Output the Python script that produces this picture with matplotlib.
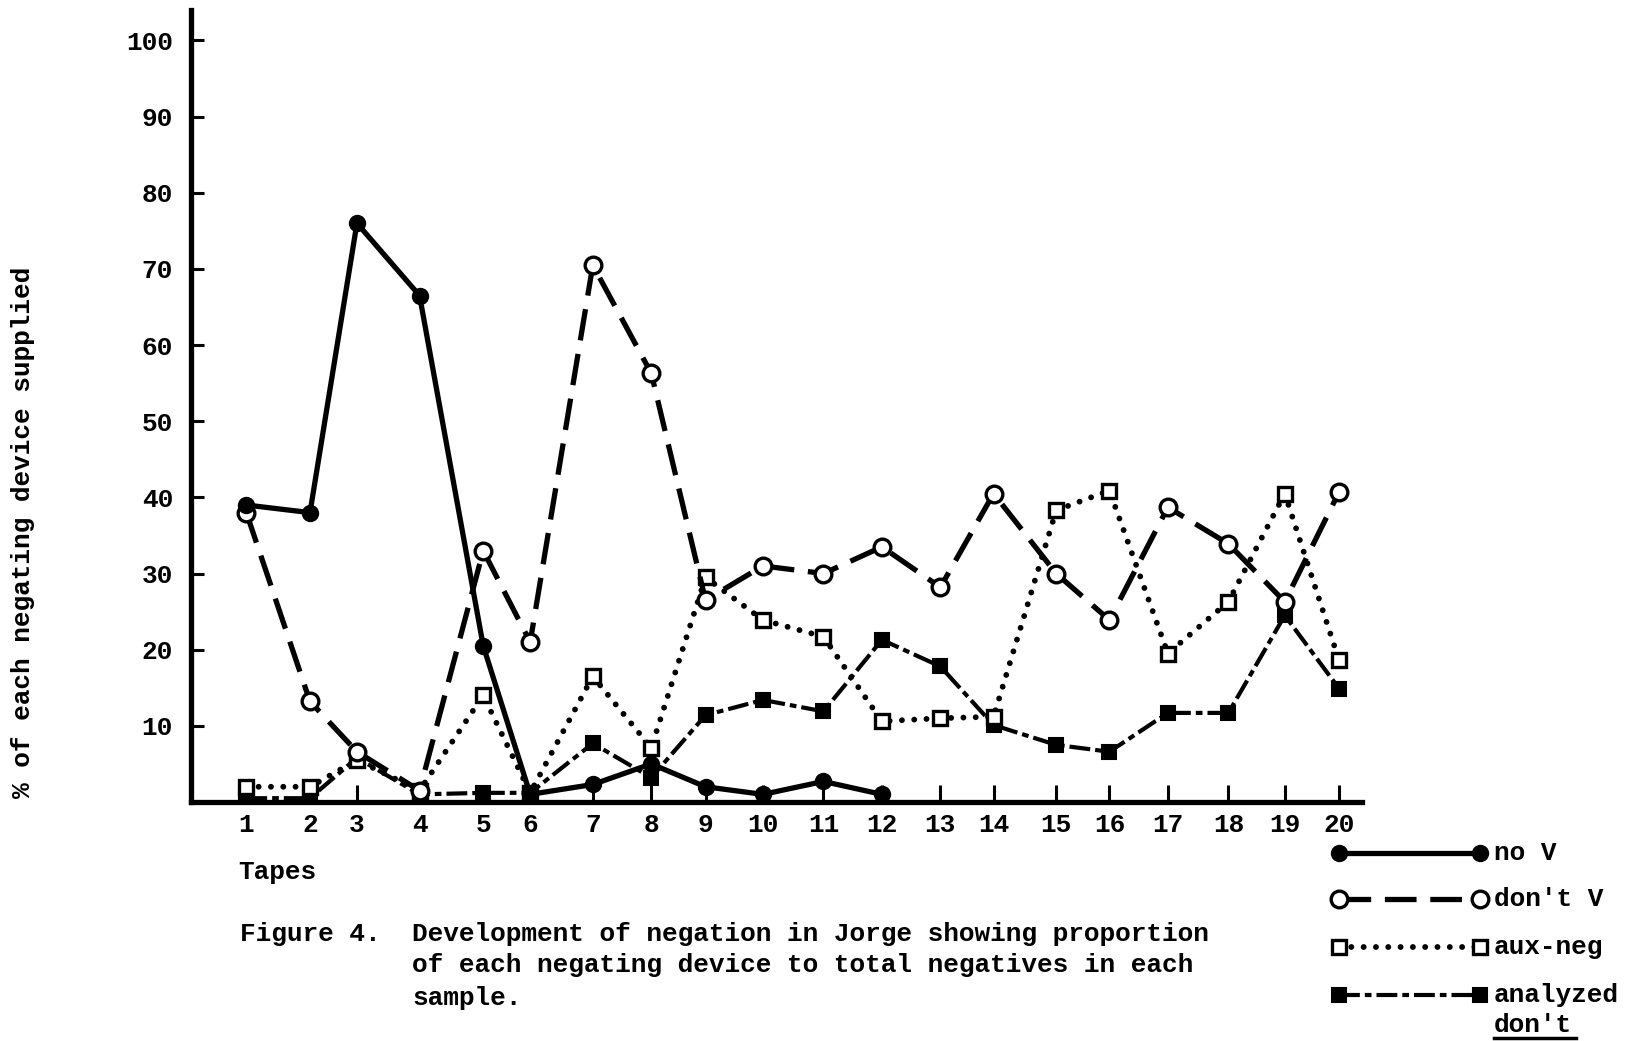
import matplotlib
matplotlib.use("Agg")
import matplotlib.pyplot as plt
from matplotlib.lines import Line2D
import numpy as np

# ---- data ----
tapes = list(range(1, 21))
# uneven horizontal placement of the tapes along the axis (axis runs 0..112.2)
tape_pos = [5.3, 11.4, 15.9, 21.9, 28.0, 32.5, 38.5, 44.1, 49.3, 54.8,
            60.6, 66.2, 71.8, 76.9, 82.9, 88.0, 93.6, 99.4, 104.8, 110.0]

no_v = [39, 38, 76, 66.5, 20.5, 1, 2.3, 5, 2, 1, 2.7, 1]  # tapes 1-12
dont_v = [38, 13.2, 6.6, 1.5, 33, 21, 70.5, 56.3, 26.5, 31,
          30, 33.5, 28.2, 40.5, 30, 23.9, 38.7, 33.9, 26.3, 40.7]
aux_neg = [2, 2, 5.5, 1.5, 14, 1.2, 16.5, 7.1, 29.5, 23.9,
           21.7, 10.6, 11, 11.2, 38.3, 40.9, 19.5, 26.3, 40.5, 18.6]
analyzed = [0.5, 0.5, 5.8, 1, 1.2, 1.2, 7.7, 3.2, 11.4, 13.4,
            11.9, 21.3, 17.8, 10.1, 7.5, 6.6, 11.7, 11.7, 24.5, 14.9]

y_ticks = [10, 20, 30, 40, 50, 60, 70, 80, 90, 100]

FONT = "Liberation Mono"
FS = 18.8

W, H = 1636, 1041
fig = plt.figure(figsize=(W / 100, H / 100), dpi=100)
ax = fig.add_axes([191 / W, 1 - 802 / H, (1362 - 191) / W, (802 - 10) / H])

xpos = np.array(tape_pos)

styles = {
    "no V": dict(ls="-", lw=3.8, marker="o", ms=11, mfc="black", mec="black", mew=1.5),
    "don't V": dict(ls=(0, (6, 2.6)), lw=3.8, marker="o", ms=12, mfc="white", mec="black", mew=2.4),
    "aux-neg": dict(ls=(0, (0.01, 2.1)), lw=4.2, marker="s", ms=10.5, mfc="white", mec="black",
                    mew=2.4, dash_capstyle="round"),
    "analyzed": dict(ls=(0, (5, 1.2, 1.6, 1.2)), lw=3.0, marker="s", ms=10.5, mfc="black",
                     mec="black", mew=1.5),
}

ax.plot(xpos, analyzed, color="black", zorder=3, **styles["analyzed"])
ax.plot(xpos, aux_neg, color="black", zorder=4, **styles["aux-neg"])
ax.plot(xpos, dont_v, color="black", zorder=5, **styles["don't V"])
ax.plot(xpos[:len(no_v)], no_v, color="black", zorder=6, **styles["no V"])

ax.set_xlim(0, 112.2)
ax.set_ylim(0, 104)
ax.set_xticks(xpos)
ax.set_xticklabels([str(t) for t in tapes])
ax.set_yticks(y_ticks)
ax.set_yticklabels([str(v) for v in y_ticks])

for s in ("top", "right"):
    ax.spines[s].set_visible(False)
for s in ("left", "bottom"):
    ax.spines[s].set_linewidth(3.8)
    ax.spines[s].set_color("black")

ax.tick_params(axis="y", direction="in", length=9, width=2.2, pad=13)
ax.tick_params(axis="x", direction="in", length=12, width=2.2, pad=8)
for lab in ax.get_xticklabels() + ax.get_yticklabels():
    lab.set_fontfamily(FONT)
    lab.set_fontweight("bold")
    lab.set_fontsize(FS)

txt = dict(fontfamily=FONT, fontweight="bold", fontsize=FS, color="black")

# y-axis label
fig.text(23 / W, 1 - 532 / H, "% of each negating device supplied",
         rotation=90, ha="center", va="center", **txt)
# x-axis label
fig.text(238 / W, 1 - 872 / H, "Tapes", ha="left", va="center", **txt)

# caption
fig.text(240 / W, 1 - 934 / H, "Figure 4.", ha="left", va="center", **txt)
fig.text(412 / W, 1 - 934 / H, "Development of negation in Jorge showing proportion",
         ha="left", va="center", **txt)
fig.text(412 / W, 1 - 965 / H, "of each negating device to total negatives in each",
         ha="left", va="center", **txt)
fig.text(412 / W, 1 - 998 / H, "sample.", ha="left", va="center", **txt)

# legend drawn by hand
leg_items = [("no V", 853), ("don't V", 899), ("aux-neg", 947), ("analyzed", 995)]
for label, yc in leg_items:
    st = dict(styles[label])
    ln = Line2D([1339 / W, 1480 / W], [1 - yc / H, 1 - yc / H], color="black",
                transform=fig.transFigure, **st)
    fig.add_artist(ln)
    fig.text(1494 / W, 1 - yc / H, label, ha="left", va="center", **txt)
fig.text(1494 / W, 1 - 1025 / H, "don't", ha="left", va="center", **txt)
fig.add_artist(Line2D([1494 / W, 1576 / W], [1 - 1038 / H, 1 - 1038 / H],
                      color="black", lw=2.5, transform=fig.transFigure))

fig.savefig("out.png", dpi=100, facecolor="white")
